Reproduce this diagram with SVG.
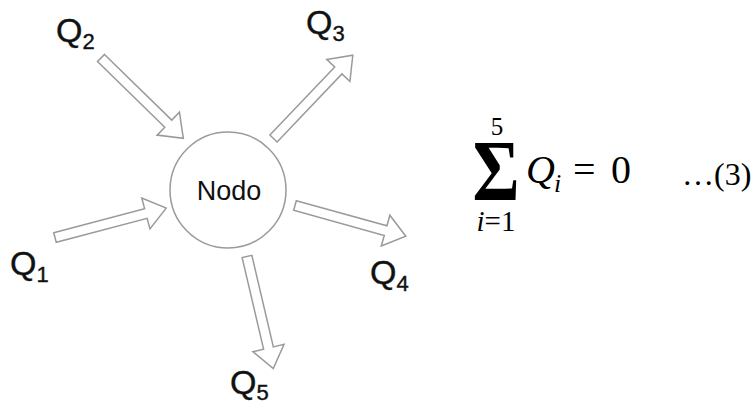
<svg xmlns="http://www.w3.org/2000/svg" xmlns:xlink="http://www.w3.org/1999/xlink" width="754" height="404" viewBox="0 0 754 404">
  <style>
    .arrow { fill: #ffffff; stroke: #9a9a9a; stroke-width: 1.5; stroke-linejoin: miter; }
    .node { fill: #ffffff; stroke: #9a9a9a; stroke-width: 1.5; }
    .sans { font-family: "Liberation Sans", Arial, Helvetica, sans-serif; fill: #111111; }
    .lbl { font-size: 34px; stroke: #111111; stroke-width: 0.4; }
    .sub { font-size: 22px; }
    .serif { font-family: "Liberation Serif", "Times New Roman", serif; fill: #000000; }
  </style>
  <defs>
    <polygon id="blockArrow" class="arrow" points="0,-5 94,-5 94,-16 115,0 94,16 94,5 0,5"/>
  </defs>

  <g id="connectors">
    <use xlink:href="#blockArrow" href="#blockArrow" transform="translate(101,58) rotate(44.3)"/>
    <use xlink:href="#blockArrow" href="#blockArrow" transform="translate(273.5,138.5) rotate(-46.4)"/>
    <use xlink:href="#blockArrow" href="#blockArrow" transform="translate(55,237.5) rotate(-14.8)"/>
    <use xlink:href="#blockArrow" href="#blockArrow" transform="translate(295,205.5) rotate(15.5)"/>
    <use xlink:href="#blockArrow" href="#blockArrow" transform="translate(247,256.5) rotate(76.8)"/>
  </g>

  <g id="node-nodo">
    <circle class="node" cx="228" cy="190" r="58"/>
    <text class="sans" x="229" y="200" font-size="27" text-anchor="middle">Nodo</text>
  </g>

  <g id="label-q1">
    <text class="sans lbl" x="10" y="275">Q<tspan class="sub" dy="7">1</tspan></text>
  </g>
  <g id="label-q2">
    <text class="sans lbl" x="56" y="42">Q<tspan class="sub" dy="7">2</tspan></text>
  </g>
  <g id="label-q3">
    <text class="sans lbl" x="306" y="34">Q<tspan class="sub" dy="7">3</tspan></text>
  </g>
  <g id="label-q4">
    <text class="sans lbl" x="370" y="284">Q<tspan class="sub" dy="7">4</tspan></text>
  </g>
  <g id="label-q5">
    <text class="sans lbl" x="230" y="394">Q<tspan class="sub" dy="6">5</tspan></text>
  </g>

  <g id="equation">
    <text class="serif" x="497" y="135" font-size="25" text-anchor="middle">5</text>
    <text class="serif" font-size="72" font-weight="bold" text-anchor="middle" transform="translate(496,200) scale(1,1.2)">Σ</text>
    <text class="serif" x="496" y="231" font-size="29" text-anchor="middle"><tspan font-style="italic">i</tspan>=1</text>
    <text class="serif" x="526" y="183" font-size="40" font-style="italic">Q</text>
    <text class="serif" x="554" y="192" font-size="26" font-style="italic">i</text>
    <text class="serif" x="573" y="183" font-size="40">=</text>
    <text class="serif" x="611" y="183" font-size="40">0</text>
    <text class="serif" x="682" y="185" font-size="32">…(3)</text>
  </g>
</svg>
